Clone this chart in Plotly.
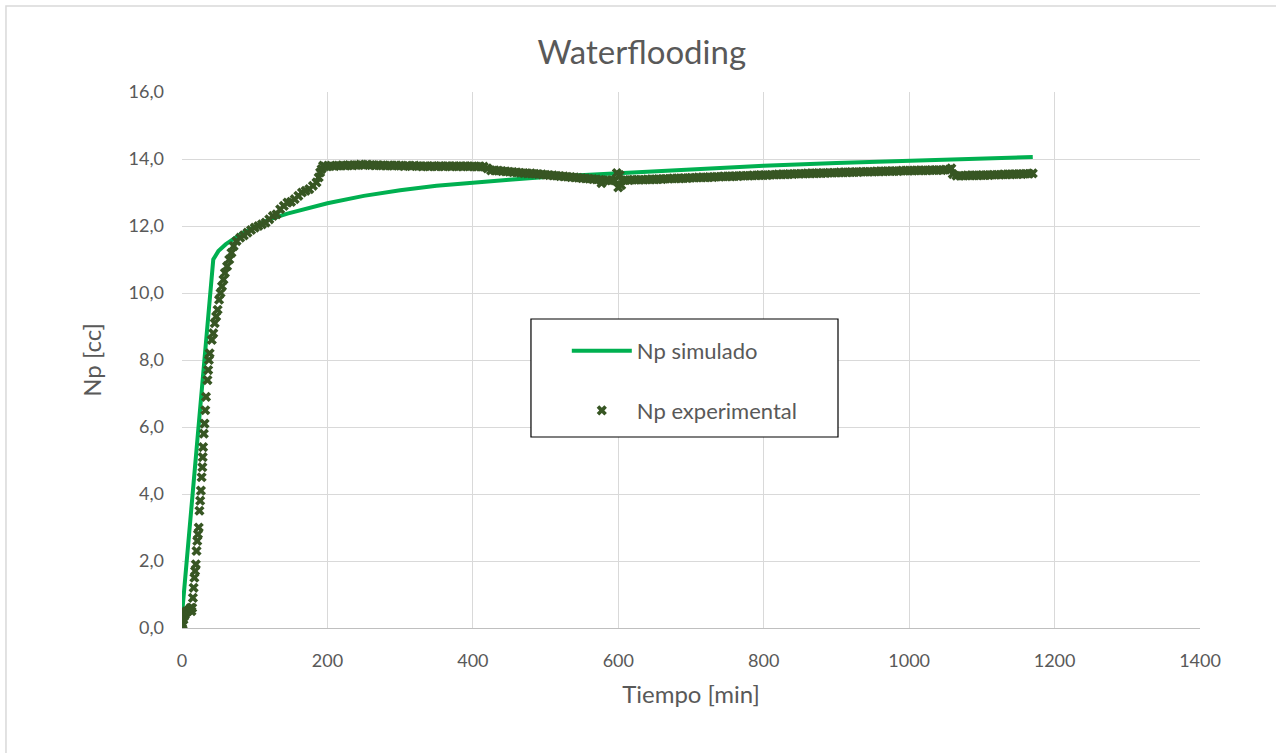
import plotly.graph_objects as go

# Simulated cumulative oil production
t_sim = [0, 43, 50, 60, 70, 80, 100, 120, 145, 170, 200, 250, 300, 350, 400,
         450, 500, 600, 700, 800, 900, 1000, 1100, 1170]
np_sim = [0.4, 11.0, 11.25, 11.45, 11.6, 11.75, 11.98, 12.2, 12.37, 12.52, 12.68,
          12.9, 13.07, 13.2, 13.3, 13.38, 13.46, 13.58, 13.7, 13.8, 13.88, 13.95,
          14.02, 14.06]

# Experimental cumulative oil production
t_exp = [0, 1, 2, 3, 4, 5, 6, 8, 10, 12, 13, 14, 15, 16, 17, 18, 19, 20, 21, 22,
         23, 24, 25, 26, 27, 28, 28.5, 29, 30, 31, 32, 33, 35, 36, 37, 38, 41, 43,
         45, 47, 49, 51, 53, 55, 57, 59, 62, 65, 68, 71, 75, 80, 85, 90, 95, 100,
         105, 110, 115, 120, 125, 130, 135, 140, 145, 150, 155, 160, 165, 170, 175,
         180, 185, 188, 190, 192, 194, 196,
         200, 205, 210, 215, 220, 225, 230, 235, 240, 245,
         250, 255, 260, 265, 270, 275, 280, 285, 290, 295,
         300, 305, 310, 315, 320, 325, 330, 335, 340, 345,
         350, 355, 360, 365, 370, 375, 380, 385, 390, 395,
         400, 405, 410, 415, 420, 425, 430, 435, 440, 445,
         450, 455, 460, 465, 470, 475, 480, 485, 490, 495,
         500, 505, 510, 515, 520, 525, 530, 535, 540, 545,
         550, 555, 560, 565, 570, 575, 577, 580, 585, 590, 595,
         598, 600, 602, 604, 605, 610, 615, 620, 625, 630, 635, 640, 645,
         650, 655, 660, 665, 670, 675, 680, 685, 690, 695,
         700, 705, 710, 715, 720, 725, 730, 735, 740, 745,
         750, 755, 760, 765, 770, 775, 780, 785, 790, 795,
         800, 805, 810, 815, 820, 825, 830, 835, 840, 845,
         850, 855, 860, 865, 870, 875, 880, 885, 890, 895,
         900, 905, 910, 915, 920, 925, 930, 935, 940, 945,
         950, 955, 960, 965, 970, 975, 980, 985, 990, 995,
         1000, 1005, 1010, 1015, 1020, 1025, 1030, 1035, 1040, 1045,
         1050, 1055, 1058, 1060, 1065, 1070, 1075, 1080, 1085, 1090, 1095,
         1100, 1105, 1110, 1115, 1120, 1125, 1130, 1135, 1140, 1145,
         1150, 1155, 1160, 1165, 1170]
np_exp = [0.0, 0.1, 0.25, 0.35, 0.4, 0.45, 0.5, 0.5, 0.55, 0.6, 0.5, 0.6, 0.9, 1.2,
          1.5, 1.7, 1.9, 2.3, 2.6, 2.8, 3.0, 3.5, 3.8, 4.1, 4.5, 4.8, 5.1, 5.4, 5.8,
          6.1, 6.5, 6.9, 7.4, 7.7, 8.0, 8.2, 8.6, 8.8, 9.1, 9.3, 9.5, 9.8, 10.0,
          10.2, 10.4, 10.6, 10.8, 11.0, 11.2, 11.4, 11.55, 11.65, 11.72, 11.8, 11.88,
          11.95, 12.0, 12.05, 12.1, 12.2, 12.3, 12.35, 12.5, 12.6, 12.7, 12.72, 12.8,
          12.9, 13.0, 13.05, 13.1, 13.2, 13.3, 13.45, 13.6, 13.7, 13.8, 13.78,
          13.78, 13.80, 13.79, 13.80, 13.81, 13.80, 13.82, 13.81, 13.82, 13.83,
          13.82, 13.83, 13.82, 13.81, 13.82, 13.81, 13.80, 13.81, 13.80, 13.81,
          13.80, 13.79, 13.80, 13.79, 13.80, 13.79, 13.78, 13.79, 13.78, 13.79,
          13.78, 13.79, 13.78, 13.79, 13.78, 13.79, 13.78, 13.78, 13.79, 13.78,
          13.78, 13.77, 13.78, 13.77, 13.72, 13.66, 13.66, 13.65, 13.64, 13.63,
          13.62, 13.61, 13.60, 13.59, 13.58, 13.57, 13.57, 13.56, 13.55, 13.54,
          13.53, 13.52, 13.51, 13.50, 13.49, 13.48, 13.47, 13.46, 13.45, 13.44,
          13.43, 13.42, 13.41, 13.40, 13.39, 13.38, 13.28, 13.36, 13.37, 13.36, 13.36,
          13.58, 13.15, 13.52, 13.22, 13.36, 13.37, 13.37, 13.38, 13.38, 13.38,
          13.38, 13.39, 13.39,
          13.39, 13.40, 13.40, 13.41, 13.41, 13.42, 13.42, 13.42, 13.43, 13.43,
          13.44, 13.44, 13.45, 13.45, 13.45, 13.46, 13.46, 13.47, 13.47, 13.48,
          13.48, 13.48, 13.49, 13.49, 13.50, 13.50, 13.50, 13.51, 13.51, 13.52,
          13.52, 13.52, 13.53, 13.53, 13.54, 13.54, 13.54, 13.55, 13.55, 13.56,
          13.56, 13.56, 13.57, 13.57, 13.57, 13.58, 13.58, 13.58, 13.59, 13.59,
          13.59, 13.60, 13.60, 13.60, 13.61, 13.61, 13.61, 13.62, 13.62, 13.62,
          13.62, 13.63, 13.63, 13.63, 13.64, 13.64, 13.64, 13.64, 13.65, 13.65,
          13.65, 13.65, 13.66, 13.66, 13.66, 13.66, 13.67, 13.67, 13.67, 13.67,
          13.68, 13.68, 13.72, 13.55, 13.50, 13.50, 13.50, 13.51, 13.51, 13.51, 13.51,
          13.52, 13.52, 13.52, 13.53, 13.53, 13.53, 13.54, 13.54, 13.54, 13.55,
          13.55, 13.55, 13.56, 13.56, 13.57]

y_ticks = [0, 2, 4, 6, 8, 10, 12, 14, 16]
y_labels = ["0,0", "2,0", "4,0", "6,0", "8,0", "10,0", "12,0", "14,0", "16,0"]
x_ticks = [0, 200, 400, 600, 800, 1000, 1200, 1400]

FONT = "Lato, 'Open Sans', sans-serif"
TEXT = "#595959"
GRID = "#D9D9D9"

fig = go.Figure()

fig.add_trace(go.Scatter(
    x=t_sim, y=np_sim, mode="lines", name="Np simulado",
    line=dict(color="#00B050", width=4), legendgroup="a",
))
fig.add_trace(go.Scatter(
    x=t_exp, y=np_exp, mode="markers", name="Np experimental",
    marker=dict(symbol="x", size=9, color="#375623"), legendgroup="b",
))

fig.update_layout(
    width=1276, height=753,
    margin=dict(l=182, r=76, t=92, b=125),
    paper_bgcolor="white", plot_bgcolor="white",
    font=dict(family=FONT, color=TEXT, size=18),
    title=dict(text="Waterflooding", x=0.503, xanchor="center", y=0.93, yanchor="middle",
               xref="container", font=dict(size=33, color=TEXT, family=FONT)),
    xaxis=dict(range=[0, 1400], tickvals=x_ticks, showgrid=True, gridcolor=GRID,
               gridwidth=1.3, zeroline=False, showline=True, linecolor="#BFBFBF",
               linewidth=1.3, ticks="", tickfont=dict(size=18, color=TEXT),
               ticklabelstandoff=16,
               title=dict(text="Tiempo [min]", font=dict(size=24, color=TEXT), standoff=16)),
    yaxis=dict(range=[0, 16], tickvals=y_ticks, ticktext=y_labels, showgrid=True,
               gridcolor=GRID, gridwidth=1.3, zeroline=False, showline=False, ticks="",
               tickfont=dict(size=18, color=TEXT), ticklabelstandoff=17,
               title=dict(text="Np [cc]", font=dict(size=24, color=TEXT), standoff=20)),
    legend=dict(x=0.378, y=0.556, xanchor="left", yanchor="top",
                bgcolor="rgba(0,0,0,0)", borderwidth=0,
                font=dict(size=22, color=TEXT, family=FONT),
                traceorder="grouped", tracegroupgap=28, itemwidth=60),
    shapes=[
        # outer chart frame
        dict(type="rect", xref="paper", yref="paper",
             x0=-0.1729, x1=1.09, y0=-0.25, y1=1.1604,
             line=dict(color="#D9D9D9", width=1.5), fillcolor="rgba(0,0,0,0)",
             layer="below"),
        # legend frame
        dict(type="rect", xref="paper", yref="paper",
             x0=0.3428, x1=0.6444, y0=0.3563, y1=0.5765,
             line=dict(color="black", width=1.2), fillcolor="white", layer="above"),
    ],
)

fig.write_html("out.html")
